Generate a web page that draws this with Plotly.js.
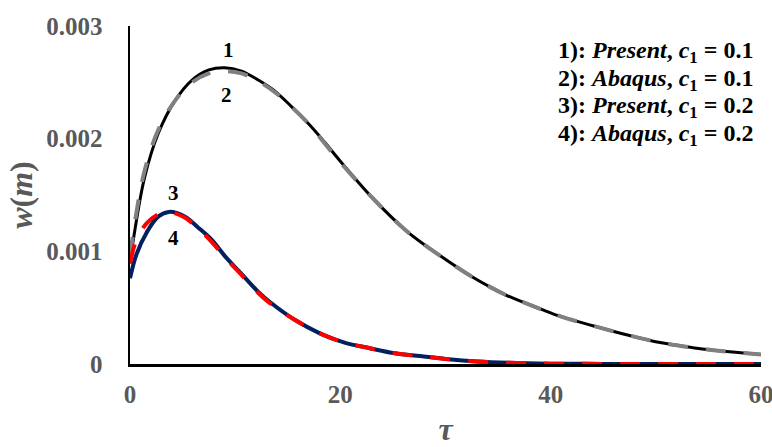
<!DOCTYPE html>
<html>
<head>
<meta charset="utf-8">
<script src="https://cdn.plot.ly/plotly-3.0.1.min.js"></script>
<style>html,body{margin:0;padding:0;background:#fff;}#chart{width:772px;height:447px;}</style>
</head>
<body>
<div id="chart"></div>
<script>
// Curve 1: Present, c1 = 0.1
var tau1 = [0, 0.5, 1.4, 2.7, 4.3, 5.9, 7.5, 9.0, 10.6, 12.2, 13.8, 15.4, 17.0, 18.5, 20, 23.1, 26.3, 29.5, 32.6, 35.8, 39.0, 41, 44, 47.2, 50.4, 53.5, 56.7, 60];
var w1 = [0.00090, 0.00121, 0.00166, 0.00205, 0.00234, 0.00252, 0.00261, 0.00263, 0.00260, 0.00252, 0.00242, 0.00228, 0.00213, 0.00197, 0.00180, 0.00147, 0.00118, 0.00096, 0.00077, 0.00061, 0.00049, 0.00042, 0.00034, 0.00026, 0.00019, 0.000145, 0.00011, 0.000085];
// Curve 2: Abaqus, c1 = 0.1
var tau2 = [0, 0.5, 1.4, 2.7, 4.3, 5.9, 7.5, 9.0, 10.6, 12.2, 13.8, 15.4, 17.0, 18.5, 20, 23.1, 26.3, 29.5, 32.6, 35.8, 39.0, 41, 44, 47.2, 50.4, 53.5, 56.7, 60];
var w2 = [0.00095, 0.00128, 0.00172, 0.00208, 0.00234, 0.00250, 0.00258, 0.00260, 0.00258, 0.00251, 0.00241, 0.00228, 0.00213, 0.00196, 0.00179, 0.00147, 0.00118, 0.00096, 0.00077, 0.00061, 0.00049, 0.00042, 0.00034, 0.00026, 0.00019, 0.000145, 0.00011, 0.000085];
// Curve 3: Present, c1 = 0.2
var tau3 = [0, 0.6, 1.6, 2.7, 3.7, 5.2, 6.5, 7.8, 9.0, 10.6, 12.2, 13.3, 15.7, 18.1, 20.4, 22.8, 25.2, 27.6, 30, 33, 36, 40, 45, 50, 55, 60];
var w3 = [0.00076, 0.00097, 0.00117, 0.00131, 0.00135, 0.00131, 0.00121, 0.00110, 0.00096, 0.00080, 0.00064, 0.00055, 0.00039, 0.00027, 0.00019, 0.00014, 0.000095, 0.00007, 0.000045, 0.000022, 0.00001, 0.000003, 0.000001, 0, 0, 0];
// Curve 4: Abaqus, c1 = 0.2
var tau4 = [0, 0.6, 1.6, 2.7, 3.7, 5.2, 6.5, 7.8, 9.0, 10.6, 12.2, 13.3, 15.7, 18.1, 20.4, 22.8, 25.2, 27.6, 30, 33, 36, 40, 45, 50, 55, 60];
var w4 = [0.00089, 0.00110, 0.00125, 0.00133, 0.00135, 0.00130, 0.00120, 0.00108, 0.00095, 0.00079, 0.00063, 0.00054, 0.00039, 0.00027, 0.00019, 0.00014, 0.000095, 0.00007, 0.000045, 0.000022, 0.00001, 0.000003, 0.000001, 0, 0, 0];

var xTicks = [0, 20, 40, 60];
var xTickText = ['0', '20', '40', '60'];
var yTicks = [0, 0.001, 0.002, 0.003];
var yTickText = ['0', '0.001', '0.002', '0.003'];

var legendLines = [
  '1): <i>Present</i>, <i>c</i><sub>1</sub> = 0.1',
  '2): <i>Abaqus</i>, <i>c</i><sub>1</sub> = 0.1',
  '3): <i>Present</i>, <i>c</i><sub>1</sub> = 0.2',
  '4): <i>Abaqus</i>, <i>c</i><sub>1</sub> = 0.2'
];
var curveLabels = ['1', '2', '3', '4'];
var curveLabelX = [9.4, 9.2, 4.1, 4.1];
var curveLabelY = [0.00279, 0.00239, 0.00152, 0.00112];

var traces = [
  {x: tau1, y: w1, mode: 'lines', line: {color: '#000000', width: 3, shape: 'spline'}},
  {x: tau2, y: w2, mode: 'lines', line: {color: '#808080', width: 4, dash: '20px,18px', shape: 'spline'}},
  {x: tau3, y: w3, mode: 'lines', line: {color: '#002060', width: 4, shape: 'spline'}},
  {x: tau4, y: w4, mode: 'lines', line: {color: '#FF0000', width: 4, dash: '20px,18px', shape: 'spline'}}
];

var tickFont = {family: 'Liberation Serif', size: 25, color: '#595959', weight: 'bold'};
var annotations = [];
for (var i = 0; i < legendLines.length; i++) {
  annotations.push({
    xref: 'paper', yref: 'paper', x: 0.99, y: 0.923 - i * 0.0815,
    xanchor: 'right', yanchor: 'middle', showarrow: false,
    text: '<b>' + legendLines[i] + '</b>',
    font: {family: 'Liberation Serif', size: 24, color: '#000000'}
  });
}
for (var j = 0; j < curveLabels.length; j++) {
  annotations.push({
    x: curveLabelX[j], y: curveLabelY[j], xanchor: 'center', yanchor: 'middle', showarrow: false,
    text: '<b>' + curveLabels[j] + '</b>',
    font: {family: 'Liberation Serif', size: 21, color: '#000000'}
  });
}

var layout = {
  width: 772, height: 447,
  margin: {l: 130, r: 11, t: 26, b: 83},
  paper_bgcolor: '#ffffff', plot_bgcolor: '#ffffff',
  showlegend: false,
  xaxis: {
    range: [0, 60], tickvals: xTicks, ticktext: xTickText,
    showgrid: false, zeroline: false, showline: true, linecolor: '#000000', linewidth: 2.5,
    ticks: 'outside', ticklen: 6, tickcolor: 'rgba(0,0,0,0)',
    tickfont: tickFont, ticklabeloverflow: 'allow',
    title: {text: '<i>τ</i>', font: {family: 'Liberation Serif', size: 32, color: '#595959', weight: 'bold'}, standoff: 34},
    automargin: false
  },
  yaxis: {
    range: [0, 0.003], tickvals: yTicks, ticktext: yTickText,
    showgrid: false, zeroline: false, showline: true, linecolor: '#000000', linewidth: 2.5,
    ticks: 'outside', ticklen: 20, tickcolor: 'rgba(0,0,0,0)',
    tickfont: tickFont, ticklabeloverflow: 'allow',
    title: {text: '<i>w</i>(<i>m</i>)', font: {family: 'Liberation Serif', size: 32, color: '#595959', weight: 'bold'}, standoff: 4},
    automargin: false
  },
  annotations: annotations
};

Plotly.newPlot('chart', traces, layout, {displayModeBar: false, staticPlot: true});
</script>
</body>
</html>
